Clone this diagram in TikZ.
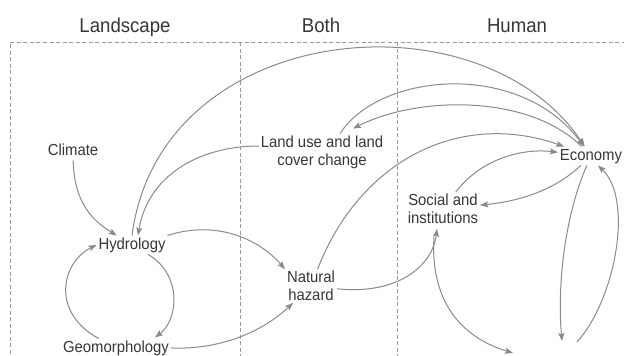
\documentclass[tikz,border=0pt]{standalone}
\usepackage{fontspec}
\setmainfont{Liberation Sans}[FakeStretch=0.93]
\usetikzlibrary{arrows.meta,calc}
\definecolor{linegray}{HTML}{8A8A8A}
\definecolor{textgray}{HTML}{363636}
\definecolor{framegray}{HTML}{9A9A9A}
\tikzset{
  lbl/.style={text=textgray, font=\fontsize{16}{18}\selectfont, inner sep=2pt, outer sep=0pt},
  onel/.style={lbl, anchor=base, text height=11.5pt, text depth=3.4pt},
  twol/.style={lbl, align=center},
  hdr/.style={text=textgray, font=\fontsize{20}{24}\selectfont, anchor=base},
  link/.style={draw=linegray, line width=1pt, -{Stealth[length=8pt,width=6pt,inset=1.5pt]}},
  frame/.style={draw=framegray, line width=0.8pt, dash pattern=on 4pt off 2.5pt},
}
\begin{document}
\begin{tikzpicture}[x=1pt,y=-1pt]
\useasboundingbox (0,0) rectangle (624,356);

% column frame
\draw[frame] (10,360) -- (10,42) -- (624,42);
\draw[frame] (240,42) -- (240,360);
\draw[frame] (397,42) -- (397,360);

% column headings
\node[hdr] (hL) at (125,32) {Landscape};
\node[hdr] (hB) at (321,32) {Both};
\node[hdr] (hH) at (517,32) {Human};

% factors
\node[onel] (cli) at (73,155) {Climate};
\node[onel] (hyd) at (132,249) {Hydrology};
\node[onel] (geo) at (116,352) {Geomorphology};
\node[onel] (eco) at (591,160) {Economy};
\node[twol] (land) at (322,152) {Land use and land\\cover change};
\node[twol] (haz) at (311,286) {Natural\\hazard};
\node[twol] (soc) at (443,209) {Social and\\institutions};

% loose ends below the visible area
\coordinate (b1) at (513,353);
\coordinate (b2) at (562,341);
\coordinate (b3) at (577,342);

% landscape links
\draw[link] (cli) .. controls (74,205) and (95,222) .. (hyd);
\draw[link] (geo) .. controls (50,312) and (62,262) .. (hyd.west);
\draw[link] (hyd) .. controls (183,275) and (178,320) .. ($(geo.north)+(39,-1)$);
\draw[link] (geo.east) .. controls (220,350) and (262,332) .. (haz);
\draw[link] (hyd.north east) .. controls (215,220) and (258,238) .. (haz.north west);
\draw[link] ($(land.west)+(0,-6)$) .. controls (200,146) and (148,175) .. ($(hyd.north)+(6,0)$);

% long arcs to the economy
\draw[link] (hyd.north) .. controls (160,20) and (480,-10) .. (eco);
\draw[link] ($(land.north)+(18,0)$) .. controls (380,72) and (520,60) .. (eco);
\draw[link] (eco) .. controls (530,95) and (420,95) .. ($(land.north)+(31,-5)$);
\draw[link] (haz) .. controls (360,160) and (460,110) .. (eco);

% human side
\draw[link] (haz) .. controls (395,295) and (432,268) .. ($(soc.south)+(-6,3)$);
\draw[link] (soc) .. controls (480,160) and (520,148) .. (eco);
\draw[link] (eco) .. controls (560,185) and (530,200) .. (soc);
\draw[link] ($(soc.south)+(-9,11)$) .. controls (430,300) and (460,337) .. (b1);
\draw[link] (eco) .. controls (565,215) and (557,285) .. (b2);
\draw[link] (b3) .. controls (615,300) and (634,200) .. ($(eco.south)+(7,0)$);
\end{tikzpicture}
\end{document}
